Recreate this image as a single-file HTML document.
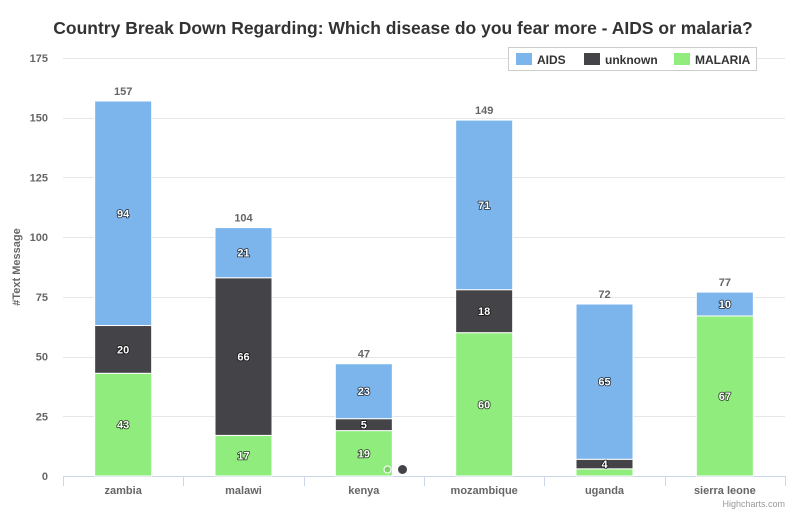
<!DOCTYPE html>
<html><head><meta charset="utf-8"><style>
body{margin:0;background:#fff;font-family:"Liberation Sans",sans-serif}
svg text{font-family:"Liberation Sans",sans-serif}
</style></head><body>
<svg id="c" width="800" height="514" xmlns="http://www.w3.org/2000/svg">
<rect width="800" height="514" fill="#fff"/>
<text x="403" y="34" text-anchor="middle" font-size="17.5" font-weight="bold" fill="#333">Country Break Down Regarding: Which disease do you fear more - AIDS or malaria?</text>
<text transform="translate(20,267) rotate(-90)" text-anchor="middle" font-size="11" font-weight="bold" fill="#666">#Text Message</text>
<g id="grid"></g><g id="bars"></g><g id="labels"></g>
<g>
<rect x="508.5" y="47.5" width="248" height="23" fill="#fff" stroke="#ccc"/>
<g><rect x="516" y="53" width="16" height="12" fill="#7cb5ec"/><text x="537" y="64" font-size="12" font-weight="bold" fill="#333">AIDS</text></g>
<g><rect x="584" y="53" width="16" height="12" fill="#434348"/><text x="605" y="64" font-size="12" font-weight="bold" fill="#333">unknown</text></g>
<g><rect x="674" y="53" width="16" height="12" fill="#90ed7d"/><text x="695" y="64" font-size="12" font-weight="bold" fill="#333">MALARIA</text></g>
</g>
<circle cx="387.5" cy="469.5" r="3.5" fill="#7fd16e" stroke="#fff" stroke-width="1"/>
<circle cx="402.5" cy="469.5" r="4.5" fill="#434348"/>
<text x="785" y="507" text-anchor="end" font-size="9" fill="#999">Highcharts.com</text>
</svg>
<script>
const categories=["zambia","malawi","kenya","mozambique","uganda","sierra leone"];
const malaria=[43,17,19,60,3,67];
const unknown=[20,66,5,18,4,0];
const aids=[94,21,23,71,65,10];
const yTicks=[0,25,50,75,100,125,150,175];
const NS="http://www.w3.org/2000/svg";
const x0=63,x1=785,yBase=476,yTop=58,yMax=175;
const y=v=>yBase-(v/yMax)*(yBase-yTop);
const bw=(x1-x0)/categories.length;
const xc=i=>x0+bw*(i+0.5);
function mk(t,a,p){const e=document.createElementNS(NS,t);for(const k in a)e.setAttribute(k,a[k]);p.appendChild(e);return e;}
const g=document.getElementById('grid'),b=document.getElementById('bars'),l=document.getElementById('labels');
yTicks.forEach(t=>{
 const ln=mk('line',{x1:x0,x2:x1,y1:Math.round(y(t))+.5,y2:Math.round(y(t))+.5,stroke:t===0?'#ccd6eb':'#e6e6e6'},g);
 
 
 const tx=mk('text',{x:48,y:y(t)+4,'text-anchor':'end','font-size':11,'font-weight':'bold',fill:'#666'},g);
 tx.textContent=t;
 
 
});
for(let i=0;i<=categories.length;i++){
 const tk=mk('line',{x1:Math.round(x0+bw*i)+.5,x2:Math.round(x0+bw*i)+.5,y1:yBase,y2:yBase+10,stroke:'#ccd6eb'},g);
 
 
}
categories.forEach((c,i)=>{
 const tx=mk('text',{x:xc(i),y:yBase+18,'text-anchor':'middle','font-size':11,'font-weight':'bold',fill:'#666'},g);
 tx.textContent=c;
 
 
 const series=[[malaria,'#90ed7d','malaria'],[unknown,'#434348','unknown'],[aids,'#7cb5ec','aids']];
 let cum=0;
 series.forEach(([arr,col,nm])=>{
  const v=arr[i];if(!v){return;}
  const top=y(cum+v),bot=y(cum);
  const r=mk('rect',{x:xc(i)-28.5,y:top,width:57,height:bot-top,fill:col,stroke:'#fff','stroke-width':1},b);
  
  
  if(v>=4){
   const t=mk('text',{x:xc(i),y:(top+bot)/2+4,'text-anchor':'middle','font-size':11,'font-weight':'bold',fill:'#fff',stroke:'#000','stroke-width':1.6,'stroke-opacity':0.75,'stroke-linejoin':'round','paint-order':'stroke'},l);
   t.textContent=v;
   
   
  }
  cum+=v;
 });
 const tt=mk('text',{x:xc(i),y:y(cum)-6,'text-anchor':'middle','font-size':11,'font-weight':'bold',fill:'#666'},l);
 tt.textContent=cum;
 
 
});
</script>
</body></html>
